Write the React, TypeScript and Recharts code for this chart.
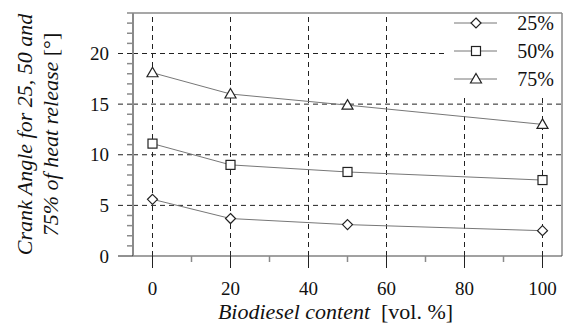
import React from 'react';
import { LineChart, Line, XAxis, YAxis, ReferenceLine } from 'recharts';

const biodiesel = [0, 20, 50, 100];
const ca25 = [5.6, 3.7, 3.1, 2.5];
const ca50 = [11.1, 9.0, 8.3, 7.5];
const ca75 = [18.1, 16.0, 14.9, 13.0];

const xTicks = [0, 10, 20, 30, 40, 50, 60, 70, 80, 90, 100];
const xMajor = [0, 20, 40, 60, 80, 100];
const yTicks = Array.from({ length: 25 }, (_, i) => i);
const yMajor = [5, 10, 15, 20];

const FONT = 'Liberation Serif';
const INK = '#222';
const FRAME = '#8a8a8a';

const data = biodiesel.map((b, i) => ({ b, s25: ca25[i], s50: ca50[i], s75: ca75[i] }));

type Shape = 'diamond' | 'square' | 'triangle';

const marker = (shape: Shape, cx: number, cy: number) => {
  const common = { fill: '#fff', stroke: INK, strokeWidth: 1.2 };
  if (shape === 'diamond') {
    return <polygon {...common} points={`${cx},${cy - 5} ${cx + 5},${cy} ${cx},${cy + 5} ${cx - 5},${cy}`} />;
  }
  if (shape === 'square') {
    return <rect {...common} x={cx - 4.5} y={cy - 4.5} width={9} height={9} />;
  }
  return <polygon {...common} points={`${cx},${cy - 5.5} ${cx + 5.5},${cy + 4} ${cx - 5.5},${cy + 4}`} />;
};

const series: { key: string; label: string; shape: Shape }[] = [
  { key: 's25', label: '25%', shape: 'diamond' },
  { key: 's50', label: '50%', shape: 'square' },
  { key: 's75', label: '75%', shape: 'triangle' },
];

const txt = (size: number): React.CSSProperties => ({ fontFamily: FONT, fontSize: size, fill: '#111' });

const YTick = ({ x, y, payload }: any) => {
  const v = payload.value;
  if (v % 5 === 0) {
    return (
      <g>
        <line x1={x - 15} x2={x} y1={y} y2={y} stroke={INK} strokeDasharray={v === 0 ? undefined : '5 4'} />
        <text x={x - 24} y={y} textAnchor="end" dominantBaseline="central" style={txt(19)}>
          {v}
        </text>
      </g>
    );
  }
  return <line x1={x - 6} x2={x} y1={y} y2={y} stroke={FRAME} strokeWidth={1.5} />;
};

const XTick = ({ x, y, payload }: any) => {
  const v = payload.value;
  if (v % 20 === 0) {
    return (
      <g>
        <line x1={x} x2={x} y1={y} y2={y + 12} stroke={INK} />
        <text x={x} y={y + 32} textAnchor="middle" dominantBaseline="central" style={txt(19)}>
          {v}
        </text>
      </g>
    );
  }
  return <line x1={x} x2={x} y1={y} y2={y + 6} stroke={FRAME} strokeWidth={1.5} />;
};

const YTitle = ({ viewBox }: any) => {
  const cy = viewBox.y + viewBox.height / 2;
  return (
    <g>
      <text x={24} y={cy} transform={`rotate(-90 24 ${cy})`} textAnchor="middle" dominantBaseline="central" style={{ ...txt(22), fontStyle: 'italic' }}>
        Crank Angle for 25, 50 and
      </text>
      <text x={50} y={cy} transform={`rotate(-90 50 ${cy})`} textAnchor="middle" dominantBaseline="central" style={txt(22)}>
        <tspan fontStyle="italic">75% of heat release </tspan>
        <tspan>[°]</tspan>
      </text>
    </g>
  );
};

const XTitle = ({ viewBox }: any) => {
  const cx = viewBox.x + viewBox.width / 2 - 12;
  return (
    <text x={cx} y={311} textAnchor="middle" dominantBaseline="central" style={txt(22)}>
      <tspan fontStyle="italic">Biodiesel content</tspan>
      <tspan xmlSpace="preserve">{'  [vol. %]'}</tspan>
    </text>
  );
};

export default function App() {
  return (
    <div style={{ position: 'absolute', left: 0, top: 0, width: 564, height: 326, background: '#fff' }}>
      <LineChart width={564} height={326} data={data} margin={{ top: 13, right: 2, left: 0, bottom: 0 }}>
        <XAxis
          dataKey="b"
          type="number"
          domain={[-5, 105]}
          ticks={xTicks}
          tick={<XTick />}
          tickSize={0}
          tickMargin={0}
          tickLine={false}
          axisLine={{ stroke: '#444', strokeWidth: 1.2 }}
          height={70}
          label={<XTitle />}
        />
        <YAxis
          type="number"
          domain={[0, 24]}
          ticks={yTicks}
          interval={0}
          tick={<YTick />}
          tickSize={0}
          tickMargin={0}
          tickLine={false}
          axisLine={{ stroke: FRAME, strokeWidth: 2 }}
          width={133}
          label={<YTitle />}
        />
        {xMajor.map((v) => (
          <ReferenceLine key={'x' + v} x={v} stroke={INK} strokeDasharray="5 4" />
        ))}
        {yMajor.map((v) => (
          <ReferenceLine key={'y' + v} y={v} stroke={INK} strokeDasharray="5 4" />
        ))}
        <ReferenceLine y={24} stroke={FRAME} strokeWidth={1.5} />
        <ReferenceLine x={105} stroke={FRAME} strokeWidth={1.5} />
        {series.map((s) => (
          <Line
            key={s.key}
            dataKey={s.key}
            type="linear"
            stroke="#777"
            strokeWidth={1}
            isAnimationActive={false}
            dot={(p: any) => <g key={p.key ?? p.index}>{marker(s.shape, p.cx, p.cy)}</g>}
            activeDot={false}
          />
        ))}
      </LineChart>
      {/* legend box sits over the grid, like the original */}
      <div style={{ position: 'absolute', left: 446, top: 14, width: 115, height: 80, background: '#fff' }}>
        <svg width={115} height={80} style={{ overflow: 'visible' }}>
          {series.map((s, i) => {
            const cy = 9 + i * 28;
            return (
              <g key={s.key}>
                <line x1={8} x2={51} y1={cy} y2={cy} stroke="#777" />
                {marker(s.shape, 30, cy)}
                <text x={108} y={cy} textAnchor="end" dominantBaseline="central" style={txt(20)}>
                  {s.label}
                </text>
              </g>
            );
          })}
        </svg>
      </div>
    </div>
  );
}
